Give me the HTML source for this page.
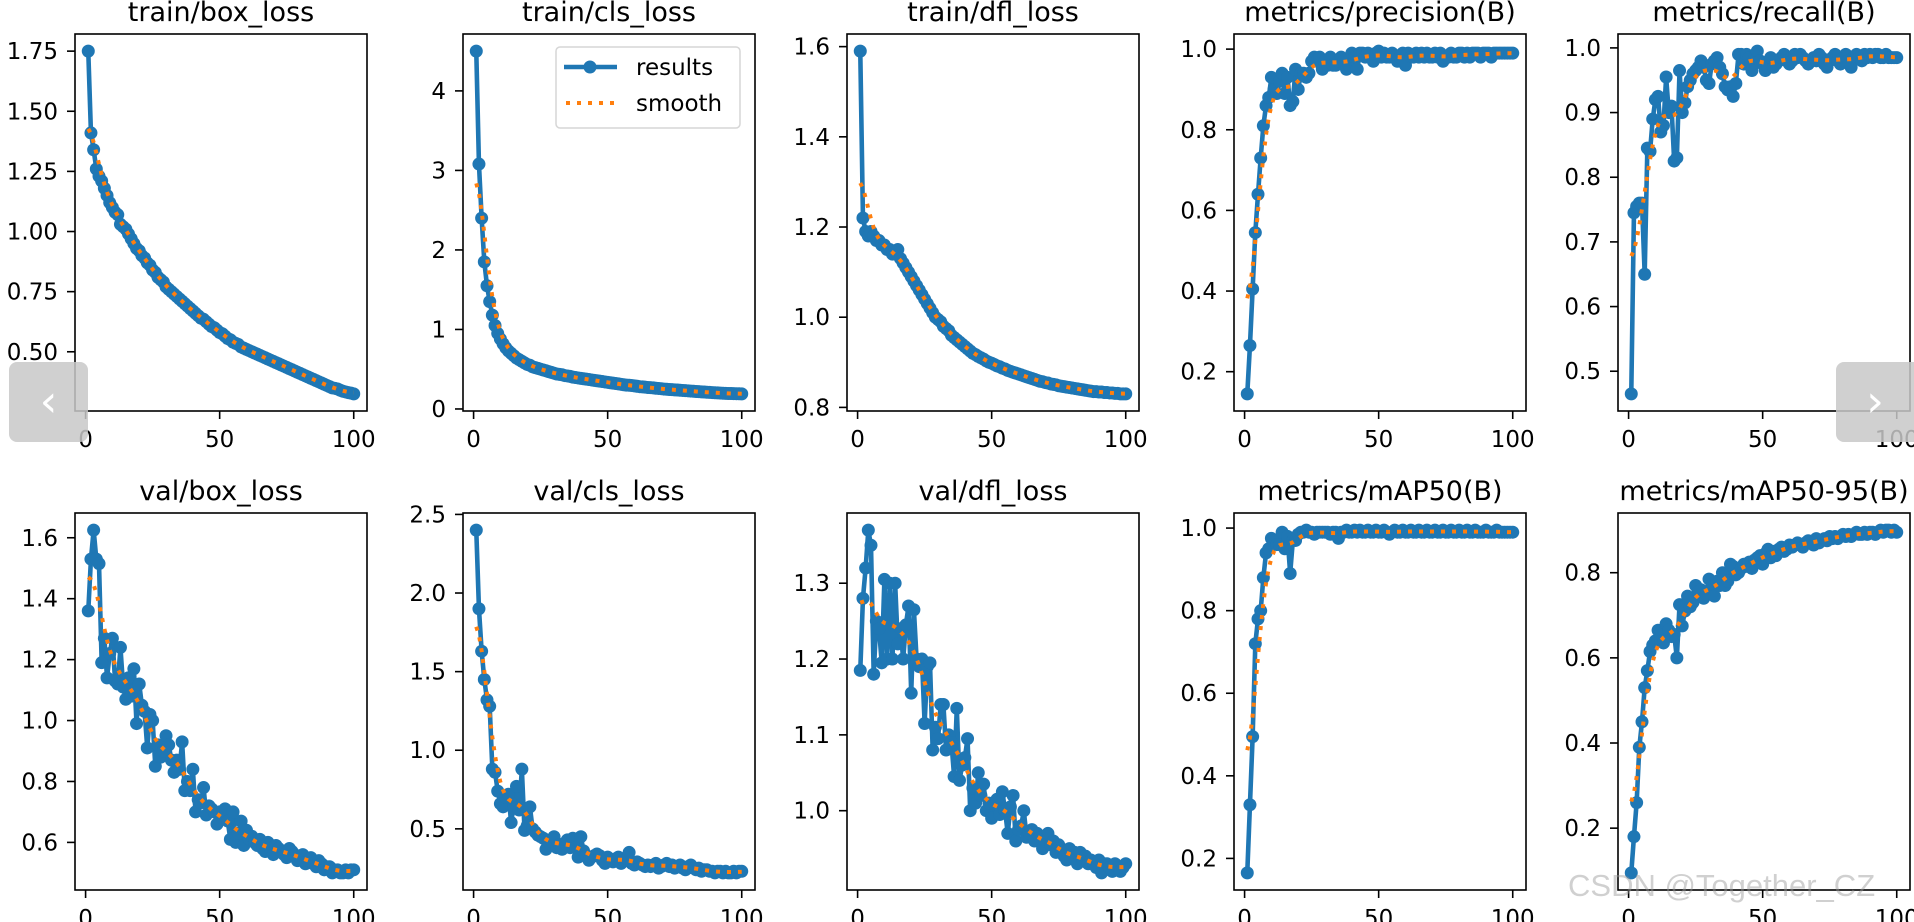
<!DOCTYPE html>
<html><head><meta charset="utf-8">
<style>
html,body{margin:0;padding:0;background:#fff;}
body{width:1914px;height:922px;position:relative;overflow:hidden;font-family:"DejaVu Sans","Liberation Sans",sans-serif;}
svg{position:absolute;left:0;top:0;}
.nav{position:absolute;width:79px;height:80px;background:rgba(200,200,200,0.85);border-radius:8px;color:#fff;font-size:44px;line-height:80px;text-align:center;font-family:"DejaVu Sans",sans-serif;}
.wm{position:absolute;left:1568px;top:868px;font-size:31px;color:rgba(150,150,150,0.45);font-family:"Liberation Sans",sans-serif;white-space:nowrap;}
</style></head>
<body>
<svg id="fig" width="1914" height="922" viewBox="0 0 1914 922"></svg>
<div class="nav" style="left:9px;top:362px;">&#8249;</div>
<div class="nav" style="left:1836px;top:362px;width:78px;border-radius:8px 0 0 8px;">&#8250;</div>
<div class="wm">CSDN @Together_CZ</div>
<script>
const xTicks = [0, 50, 100];

const trainBoxLoss = [1.75,1.41,1.34,1.26,1.23,1.21,1.18,1.15,1.12,1.10,
1.08,1.07,1.03,1.02,1.01,0.99,0.97,0.95,0.93,0.92,
0.90,0.89,0.87,0.86,0.84,0.83,0.81,0.80,0.79,0.77,
0.76,0.75,0.74,0.73,0.72,0.71,0.70,0.69,0.68,0.67,
0.66,0.65,0.64,0.635,0.625,0.615,0.605,0.60,0.59,0.58,
0.575,0.565,0.555,0.55,0.54,0.535,0.53,0.52,0.515,0.51,
0.505,0.50,0.495,0.49,0.485,0.48,0.475,0.47,0.465,0.46,
0.455,0.45,0.445,0.44,0.435,0.43,0.425,0.42,0.415,0.41,
0.405,0.40,0.395,0.39,0.385,0.38,0.375,0.37,0.365,0.36,
0.355,0.35,0.348,0.345,0.34,0.336,0.333,0.33,0.328,0.325];
const trainBoxTicks = [0.50, 0.75, 1.00, 1.25, 1.50, 1.75];

const trainClsLoss = [4.50,3.08,2.40,1.85,1.55,1.35,1.18,1.05,0.95,0.88,
0.82,0.77,0.73,0.70,0.67,0.64,0.62,0.60,0.58,0.56,
0.55,0.53,0.52,0.51,0.50,0.49,0.48,0.47,0.46,0.45,
0.44,0.435,0.43,0.42,0.415,0.41,0.40,0.395,0.39,0.385,
0.38,0.375,0.37,0.365,0.36,0.355,0.35,0.345,0.34,0.335,
0.33,0.325,0.32,0.315,0.31,0.305,0.30,0.298,0.295,0.29,
0.285,0.28,0.278,0.275,0.27,0.268,0.265,0.26,0.258,0.255,
0.25,0.248,0.245,0.243,0.24,0.238,0.235,0.233,0.23,0.228,
0.225,0.223,0.22,0.218,0.215,0.213,0.21,0.208,0.206,0.204,
0.202,0.2,0.198,0.196,0.195,0.194,0.193,0.192,0.191,0.19];
const trainClsTicks = [0, 1, 2, 3, 4];

const trainDflLoss = [1.59,1.22,1.19,1.18,1.19,1.18,1.17,1.17,1.16,1.16,
1.15,1.15,1.14,1.14,1.15,1.13,1.12,1.11,1.10,1.09,
1.08,1.07,1.06,1.05,1.04,1.03,1.02,1.01,1.00,0.995,
0.99,0.98,0.975,0.97,0.96,0.955,0.95,0.945,0.94,0.935,
0.93,0.925,0.92,0.917,0.913,0.91,0.907,0.903,0.90,0.898,
0.895,0.892,0.89,0.887,0.885,0.882,0.88,0.878,0.876,0.874,
0.872,0.87,0.868,0.866,0.864,0.862,0.86,0.858,0.857,0.855,
0.854,0.852,0.851,0.85,0.848,0.847,0.846,0.845,0.844,0.843,
0.842,0.841,0.84,0.839,0.838,0.837,0.836,0.835,0.835,0.834,
0.834,0.833,0.833,0.832,0.832,0.831,0.831,0.83,0.83,0.83];
const trainDflTicks = [0.8, 1.0, 1.2, 1.4, 1.6];

const precision = [0.145,0.265,0.405,0.545,0.64,0.73,0.81,0.86,0.88,0.93,
0.90,0.89,0.92,0.94,0.89,0.93,0.86,0.87,0.95,0.90,
0.94,0.94,0.93,0.94,0.97,0.98,0.97,0.98,0.95,0.97,
0.96,0.98,0.96,0.96,0.97,0.98,0.97,0.95,0.96,0.99,
0.98,0.95,0.99,0.99,0.98,0.99,0.98,0.97,0.99,0.995,
0.98,0.99,0.98,0.98,0.99,0.98,0.97,0.98,0.99,0.96,
0.99,0.98,0.98,0.99,0.98,0.99,0.98,0.99,0.98,0.98,
0.99,0.98,0.99,0.97,0.98,0.98,0.99,0.98,0.98,0.99,
0.99,0.98,0.99,0.98,0.99,0.99,0.99,0.98,0.99,0.99,
0.99,0.98,0.99,0.99,0.99,0.99,0.99,0.99,0.99,0.99];
const precisionTicks = [0.2, 0.4, 0.6, 0.8, 1.0];

const recall = [0.465,0.745,0.755,0.76,0.76,0.65,0.845,0.84,0.89,0.92,
0.925,0.87,0.88,0.955,0.90,0.91,0.825,0.83,0.965,0.90,
0.915,0.94,0.95,0.96,0.965,0.97,0.98,0.97,0.95,0.945,
0.975,0.98,0.985,0.97,0.96,0.94,0.935,0.94,0.925,0.945,
0.99,0.99,0.975,0.99,0.985,0.965,0.985,0.995,0.98,0.975,
0.965,0.97,0.985,0.97,0.975,0.98,0.985,0.99,0.98,0.975,
0.98,0.99,0.985,0.99,0.985,0.98,0.975,0.98,0.985,0.98,
0.99,0.985,0.975,0.97,0.98,0.985,0.99,0.98,0.975,0.985,
0.99,0.98,0.97,0.985,0.99,0.985,0.98,0.99,0.985,0.99,
0.985,0.99,0.99,0.985,0.985,0.99,0.985,0.985,0.985,0.985];
const recallTicks = [0.5, 0.6, 0.7, 0.8, 0.9, 1.0];

const valBoxLoss = [1.36,1.53,1.625,1.53,1.515,1.19,1.27,1.14,1.22,1.27,
1.13,1.12,1.24,1.11,1.07,1.14,1.08,1.17,0.99,1.12,
1.05,1.03,0.91,1.02,1.00,0.85,0.92,0.88,0.90,0.95,
0.92,0.87,0.83,0.87,0.84,0.93,0.77,0.80,0.77,0.84,
0.70,0.74,0.73,0.78,0.69,0.72,0.71,0.70,0.66,0.70,
0.68,0.71,0.67,0.61,0.70,0.60,0.63,0.67,0.59,0.64,
0.61,0.62,0.60,0.59,0.61,0.58,0.57,0.60,0.58,0.56,
0.59,0.58,0.57,0.56,0.55,0.58,0.57,0.56,0.54,0.55,
0.56,0.53,0.54,0.55,0.53,0.52,0.54,0.53,0.51,0.52,
0.52,0.50,0.51,0.51,0.50,0.50,0.51,0.50,0.51,0.51];
const valBoxTicks = [0.6, 0.8, 1.0, 1.2, 1.4, 1.6];

const valClsLoss = [2.40,1.90,1.63,1.45,1.32,1.28,0.88,0.86,0.74,0.66,
0.64,0.70,0.72,0.54,0.65,0.77,0.62,0.88,0.49,0.52,
0.64,0.50,0.48,0.46,0.45,0.44,0.37,0.42,0.43,0.45,
0.38,0.40,0.37,0.41,0.43,0.38,0.44,0.38,0.32,0.45,
0.36,0.33,0.30,0.32,0.33,0.34,0.33,0.30,0.28,0.32,
0.30,0.29,0.31,0.32,0.28,0.30,0.31,0.35,0.28,0.27,
0.29,0.28,0.27,0.26,0.27,0.26,0.27,0.28,0.25,0.26,
0.27,0.28,0.26,0.27,0.25,0.26,0.27,0.25,0.24,0.26,
0.27,0.25,0.24,0.25,0.23,0.24,0.24,0.23,0.23,0.22,
0.23,0.23,0.22,0.23,0.22,0.22,0.23,0.22,0.23,0.23];
const valClsTicks = [0.5, 1.0, 1.5, 2.0, 2.5];

const valDflLoss = [1.185,1.28,1.32,1.37,1.35,1.18,1.25,1.24,1.195,1.305,
1.20,1.30,1.20,1.30,1.22,1.24,1.20,1.245,1.27,1.155,
1.265,1.20,1.19,1.20,1.115,1.19,1.195,1.08,1.11,1.095,
1.14,1.14,1.08,1.10,1.09,1.045,1.135,1.04,1.06,1.07,
1.095,1.00,1.03,1.01,1.05,1.02,1.035,1.00,1.01,0.99,
1.01,1.015,0.995,1.025,1.00,0.97,1.005,1.02,0.96,0.975,
0.98,1.00,0.965,0.97,0.975,0.96,0.97,0.965,0.95,0.96,
0.97,0.955,0.96,0.945,0.955,0.95,0.94,0.935,0.95,0.94,
0.945,0.93,0.945,0.935,0.94,0.93,0.935,0.93,0.925,0.935,
0.918,0.93,0.93,0.925,0.92,0.93,0.925,0.92,0.925,0.93];
const valDflTicks = [1.0, 1.1, 1.2, 1.3];

const mAP50 = [0.165,0.33,0.495,0.72,0.78,0.80,0.88,0.94,0.95,0.975,
0.97,0.96,0.96,0.99,0.95,0.98,0.89,0.97,0.97,0.985,
0.99,0.99,0.995,0.99,0.99,0.985,0.99,0.99,0.99,0.99,
0.99,0.985,0.99,0.99,0.975,0.99,0.99,0.995,0.99,0.99,
0.995,0.99,0.995,0.99,0.99,0.995,0.99,0.99,0.995,0.99,
0.99,0.995,0.99,0.985,0.99,0.995,0.99,0.99,0.995,0.99,
0.99,0.995,0.99,0.99,0.995,0.99,0.99,0.995,0.99,0.99,
0.995,0.99,0.99,0.995,0.99,0.99,0.995,0.99,0.99,0.995,
0.99,0.99,0.995,0.99,0.99,0.995,0.99,0.99,0.99,0.995,
0.99,0.99,0.99,0.995,0.99,0.99,0.99,0.99,0.99,0.99];
const mAP50Ticks = [0.2, 0.4, 0.6, 0.8, 1.0];

const mAP5095 = [0.095,0.18,0.26,0.39,0.45,0.53,0.57,0.615,0.63,0.64,
0.665,0.64,0.635,0.68,0.665,0.65,0.655,0.60,0.725,0.675,
0.71,0.745,0.72,0.73,0.77,0.755,0.76,0.74,0.75,0.785,
0.76,0.745,0.78,0.77,0.80,0.77,0.78,0.82,0.815,0.795,
0.80,0.81,0.82,0.815,0.825,0.81,0.83,0.835,0.84,0.82,
0.845,0.855,0.835,0.85,0.84,0.855,0.86,0.85,0.855,0.865,
0.86,0.865,0.87,0.865,0.86,0.87,0.875,0.87,0.865,0.88,
0.87,0.875,0.88,0.875,0.885,0.88,0.885,0.88,0.885,0.89,
0.885,0.89,0.885,0.89,0.895,0.89,0.89,0.895,0.89,0.895,
0.895,0.89,0.895,0.9,0.895,0.9,0.9,0.895,0.9,0.895];
const mAP5095Ticks = [0.2, 0.4, 0.6, 0.8];

const NS = "http://www.w3.org/2000/svg";
const fig = document.getElementById("fig");
const BLUE = "#1f77b4", ORANGE = "#ff7f0e";
const colLeft = [75, 463, 847, 1234, 1618];
const rowTop = [34, 513];
const AXW = 292, AXH = 377;

function mk(tag, attrs, parent) {
  const e = document.createElementNS(NS, tag);
  for (const k in attrs) e.setAttribute(k, attrs[k]);
  parent.appendChild(e);
  return e;
}
function smoothSeries(y) {
  const s = 3, r = 12, n = y.length, w = [];
  let tot = 0;
  for (let k = -r; k <= r; k++) { const v = Math.exp(-k * k / (2 * s * s)); w.push(v); tot += v; }
  const out = [];
  for (let i = 0; i < n; i++) {
    let acc = 0;
    for (let k = -r; k <= r; k++) {
      let j = i + k;
      while (j < 0 || j >= n) { if (j < 0) j = -j - 1; if (j >= n) j = 2 * n - j - 1; }
      acc += y[j] * w[k + r];
    }
    out.push(acc / tot);
  }
  return out;
}

function drawChart(name, title, vals, yTicks, dec, col, row, legend) {
  const L = colLeft[col], T = rowTop[row];
  const g = mk("g", {}, fig);
  
  
  const n = vals.length;
  const xr = (n - 1) * 0.05, x0 = 1 - xr, x1 = n + xr;
  const mn = Math.min(...vals), mx = Math.max(...vals), yr = (mx - mn) * 0.05;
  const y0 = mn - yr, y1 = mx + yr;
  const sx = v => L + (v - x0) / (x1 - x0) * AXW;
  const sy = v => T + AXH - (v - y0) / (y1 - y0) * AXH;

  const tt = mk("text", {x: L + AXW / 2, y: T - 13, "text-anchor": "middle", "font-size": 27, fill: "#000"}, g);
  tt.textContent = title;
  
  

  const clip = mk("clipPath", {id: "clip-" + name}, g);
  mk("rect", {x: L, y: T, width: AXW, height: AXH}, clip);

  const pts = vals.map((v, i) => sx(i + 1).toFixed(2) + "," + sy(v).toFixed(2)).join(" ");
  const line = mk("polyline", {points: pts, fill: "none", stroke: BLUE, "stroke-width": 4.6, "stroke-linejoin": "round"}, g);
  
  
  vals.forEach((v, i) => {
    const c = mk("circle", {cx: sx(i + 1).toFixed(2), cy: sy(v).toFixed(2), r: 6.5, fill: BLUE}, g);
    
    
  });
  const sm = smoothSeries(vals);
  const spts = sm.map((v, i) => sx(i + 1).toFixed(2) + "," + sy(v).toFixed(2)).join(" ");
  const sl = mk("polyline", {points: spts, fill: "none", stroke: ORANGE, "stroke-width": 4, "stroke-dasharray": "4,7", "clip-path": "url(#clip-" + name + ")"}, g);
  
  

  const frame = mk("rect", {x: L, y: T, width: AXW, height: AXH, fill: "none", stroke: "#000", "stroke-width": 1.6}, g);
  
  

  xTicks.forEach(t => {
    const x = sx(t);
    mk("line", {x1: x, y1: T + AXH, x2: x, y2: T + AXH + 8, stroke: "#000", "stroke-width": 1.6}, g);
    const lb = mk("text", {x: x, y: T + AXH + 36, "text-anchor": "middle", "font-size": 23, fill: "#000"}, g);
    lb.textContent = String(t);
    
    
  });
  yTicks.forEach(t => {
    const y = sy(t);
    mk("line", {x1: L - 8, y1: y, x2: L, y2: y, stroke: "#000", "stroke-width": 1.6}, g);
    const lb = mk("text", {x: L - 17, y: y + 8, "text-anchor": "end", "font-size": 23, fill: "#000"}, g);
    lb.textContent = t.toFixed(dec);
    
    
  });

  if (legend) {
    const lg = mk("g", {}, g);
    
    
    mk("rect", {x: 556, y: 47, width: 184, height: 81, rx: 4, fill: "rgba(255,255,255,0.8)", stroke: "#d6d6d6", "stroke-width": 1.5}, lg);
    const e1 = mk("g", {}, lg);
    
    
    mk("line", {x1: 564, y1: 67, x2: 617, y2: 67, stroke: BLUE, "stroke-width": 4.6}, e1);
    mk("circle", {cx: 590, cy: 67, r: 6.5, fill: BLUE}, e1);
    const t1 = mk("text", {x: 636, y: 75, "font-size": 23, fill: "#000"}, e1);
    t1.textContent = "results";
    const e2 = mk("g", {}, lg);
    
    
    mk("line", {x1: 566, y1: 103, x2: 617, y2: 103, stroke: ORANGE, "stroke-width": 4, "stroke-dasharray": "4,7"}, e2);
    const t2 = mk("text", {x: 636, y: 111, "font-size": 23, fill: "#000"}, e2);
    t2.textContent = "smooth";
  }
}

drawChart("train-box-loss", "train/box_loss", trainBoxLoss, trainBoxTicks, 2, 0, 0, false);
drawChart("train-cls-loss", "train/cls_loss", trainClsLoss, trainClsTicks, 0, 1, 0, true);
drawChart("train-dfl-loss", "train/dfl_loss", trainDflLoss, trainDflTicks, 1, 2, 0, false);
drawChart("precision", "metrics/precision(B)", precision, precisionTicks, 1, 3, 0, false);
drawChart("recall", "metrics/recall(B)", recall, recallTicks, 1, 4, 0, false);
drawChart("val-box-loss", "val/box_loss", valBoxLoss, valBoxTicks, 1, 0, 1, false);
drawChart("val-cls-loss", "val/cls_loss", valClsLoss, valClsTicks, 1, 1, 1, false);
drawChart("val-dfl-loss", "val/dfl_loss", valDflLoss, valDflTicks, 1, 2, 1, false);
drawChart("map50", "metrics/mAP50(B)", mAP50, mAP50Ticks, 1, 3, 1, false);
drawChart("map50-95", "metrics/mAP50-95(B)", mAP5095, mAP5095Ticks, 1, 4, 1, false);
</script>
</body></html>
